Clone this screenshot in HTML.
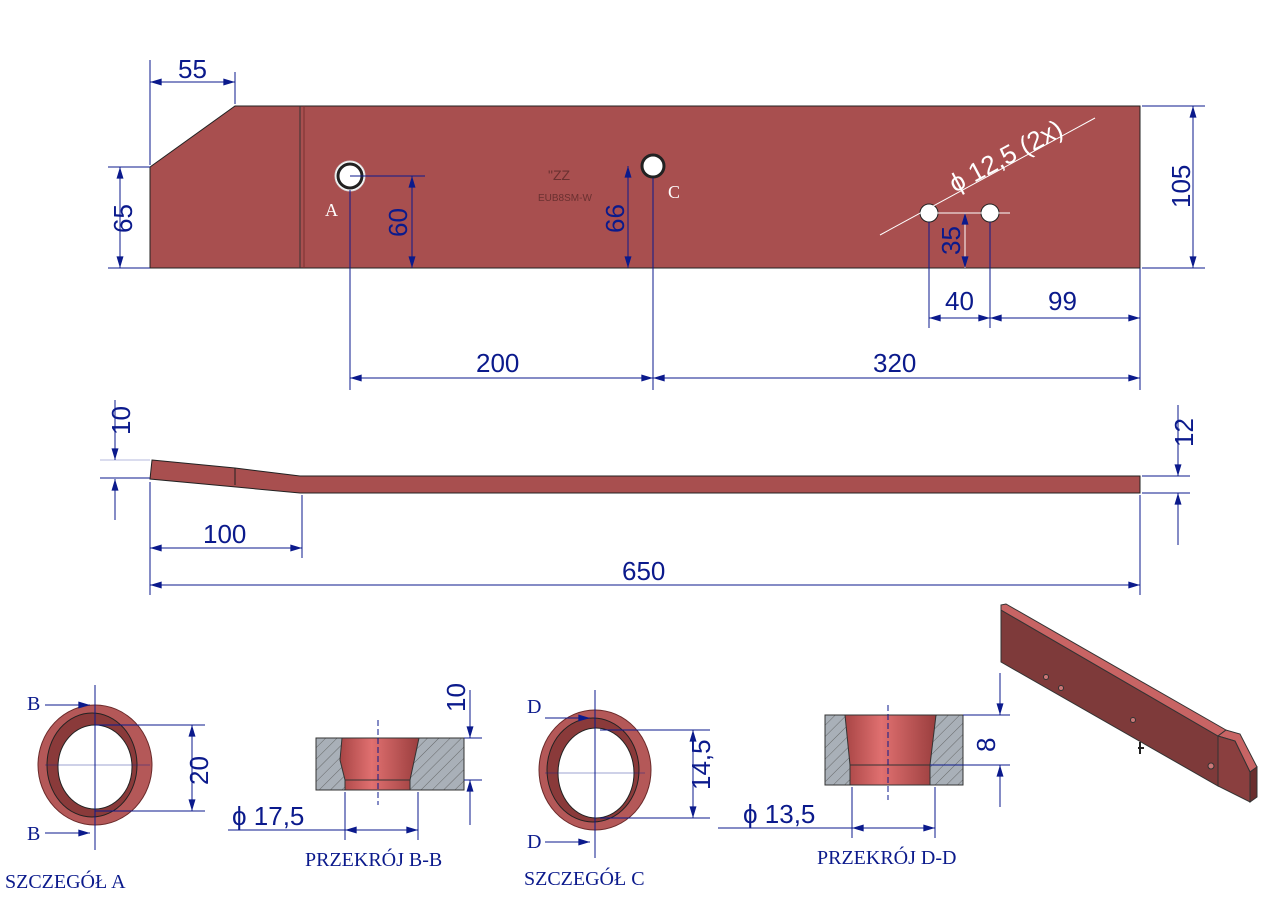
<!DOCTYPE html>
<html><head><meta charset="utf-8"><style>body{margin:0;background:#fff}svg{display:block}</style></head><body>
<svg width="1280" height="905" viewBox="0 0 1280 905" xmlns="http://www.w3.org/2000/svg" font-family="Liberation Sans, sans-serif">
<defs>
<marker id="a" viewBox="0 0 10 6" refX="10" refY="3" markerWidth="16" markerHeight="7" orient="auto-start-reverse" markerUnits="userSpaceOnUse"><path d="M0,0L10,3L0,6z" fill="#0b1a8c"/></marker>
<pattern id="h" width="8" height="8" patternUnits="userSpaceOnUse" patternTransform="rotate(45)"><rect width="8" height="8" fill="#a9b0b8"/><line x1="0" y1="0" x2="0" y2="8" stroke="#555" stroke-width="0.8"/></pattern>
<linearGradient id="g" x1="0" x2="1"><stop offset="0" stop-color="#a84545"/><stop offset="0.4" stop-color="#e07070"/><stop offset="1" stop-color="#9a3e3e"/></linearGradient>
</defs>
<g stroke="#0b1a8c" stroke-width="1" fill="none">
<polygon points="150,167 235,106 1140,106 1140,268 150,268" fill="#a84f4f" stroke="#222"/>
<line x1="300" y1="106" x2="300" y2="268" stroke="#333"/><line x1="304" y1="106" x2="304" y2="268" stroke="#7a3030"/>
<circle cx="350" cy="176" r="15" fill="#fff" stroke="#ddd"/><circle cx="350" cy="176" r="12" fill="#fff" stroke="#222" stroke-width="3"/>
<circle cx="653" cy="166" r="11" fill="#fff" stroke="#222" stroke-width="3"/>
<circle cx="929" cy="213" r="9" fill="#fff" stroke="#222"/><circle cx="990" cy="213" r="9" fill="#fff" stroke="#222"/>
<line x1="150" y1="60" x2="150" y2="165"/><line x1="235" y1="72" x2="235" y2="104"/>
<line x1="150" y1="82" x2="235" y2="82" marker-start="url(#a)" marker-end="url(#a)"/>
<line x1="108" y1="167" x2="150" y2="167"/><line x1="108" y1="268" x2="150" y2="268"/>
<line x1="120" y1="167" x2="120" y2="268" marker-start="url(#a)" marker-end="url(#a)"/>
<line x1="350" y1="176" x2="425" y2="176"/><line x1="412" y1="176" x2="412" y2="268" marker-start="url(#a)" marker-end="url(#a)"/>
<line x1="628" y1="166" x2="628" y2="268" marker-start="url(#a)" marker-end="url(#a)"/>
<line x1="1142" y1="106" x2="1205" y2="106"/><line x1="1142" y1="268" x2="1205" y2="268"/>
<line x1="1193" y1="106" x2="1193" y2="268" marker-start="url(#a)" marker-end="url(#a)"/>
<line x1="920" y1="213" x2="1010" y2="213" stroke="#fff"/>
<line x1="965" y1="213" x2="965" y2="268" marker-start="url(#a)" marker-end="url(#a)" stroke="#fff"/>
<line x1="880" y1="235" x2="1095" y2="118" stroke="#fff"/>
<line x1="350" y1="190" x2="350" y2="390"/><line x1="653" y1="178" x2="653" y2="390"/>
<line x1="929" y1="222" x2="929" y2="328"/><line x1="990" y1="222" x2="990" y2="328"/><line x1="1140" y1="268" x2="1140" y2="390"/>
<line x1="929" y1="318" x2="990" y2="318" marker-start="url(#a)" marker-end="url(#a)"/>
<line x1="990" y1="318" x2="1140" y2="318" marker-start="url(#a)" marker-end="url(#a)"/>
<line x1="350" y1="378" x2="653" y2="378" marker-start="url(#a)" marker-end="url(#a)"/>
<line x1="653" y1="378" x2="1140" y2="378" marker-start="url(#a)" marker-end="url(#a)"/>
<polygon points="152,460 235,468 300,476 1140,476 1140,493 300,493 150,479" fill="#a84f4f" stroke="#222"/>
<line x1="235" y1="468" x2="235" y2="485" stroke="#222"/>
<line x1="100" y1="478" x2="150" y2="478"/><line x1="100" y1="460" x2="150" y2="460" stroke-opacity=".3"/>
<line x1="115" y1="400" x2="115" y2="460" marker-end="url(#a)"/><line x1="115" y1="520" x2="115" y2="479" marker-end="url(#a)"/>
<line x1="1142" y1="476" x2="1190" y2="476"/><line x1="1142" y1="493" x2="1190" y2="493"/>
<line x1="1178" y1="405" x2="1178" y2="476" marker-end="url(#a)"/><line x1="1178" y1="545" x2="1178" y2="493" marker-end="url(#a)"/>
<line x1="150" y1="482" x2="150" y2="595"/><line x1="302" y1="495" x2="302" y2="558"/><line x1="1140" y1="495" x2="1140" y2="595"/>
<line x1="150" y1="548" x2="302" y2="548" marker-start="url(#a)" marker-end="url(#a)"/>
<line x1="150" y1="585" x2="1140" y2="585" marker-start="url(#a)" marker-end="url(#a)"/>
<ellipse cx="95" cy="765" rx="57" ry="60" fill="#b45858" stroke="#6a2a2a"/>
<ellipse cx="92" cy="765" rx="45" ry="52" fill="#8a3a3a" stroke="#222"/>
<ellipse cx="95" cy="767" rx="37" ry="42" fill="#fff" stroke="#222"/>
<line x1="95" y1="685" x2="95" y2="850"/><line x1="45" y1="765" x2="150" y2="765" stroke-opacity=".4"/>
<line x1="95" y1="725" x2="205" y2="725"/><line x1="95" y1="811" x2="205" y2="811"/>
<line x1="192" y1="725" x2="192" y2="811" marker-start="url(#a)" marker-end="url(#a)"/>
<line x1="45" y1="705" x2="90" y2="705" marker-end="url(#a)"/><line x1="45" y1="833" x2="90" y2="833" marker-end="url(#a)"/>
<rect x="316" y="738" width="148" height="52" fill="url(#h)" stroke="#333"/>
<polygon points="342,738 419,738 410,780 410,790 345,790 345,780 340,760" fill="url(#g)" stroke="#333"/>
<line x1="345" y1="780" x2="410" y2="780" stroke="#333"/>
<line x1="378" y1="720" x2="378" y2="805" stroke-dasharray="6,3"/>
<line x1="464" y1="738" x2="482" y2="738"/><line x1="464" y1="780" x2="482" y2="780"/>
<line x1="470" y1="690" x2="470" y2="738" marker-end="url(#a)"/><line x1="470" y1="825" x2="470" y2="780" marker-end="url(#a)"/>
<line x1="345" y1="792" x2="345" y2="840"/><line x1="418" y1="792" x2="418" y2="840"/>
<line x1="345" y1="830" x2="418" y2="830" marker-start="url(#a)" marker-end="url(#a)"/>
<line x1="228" y1="830" x2="345" y2="830"/>
<ellipse cx="595" cy="770" rx="56" ry="60" fill="#b45858" stroke="#6a2a2a"/>
<ellipse cx="593" cy="770" rx="46" ry="52" fill="#8a3a3a" stroke="#222"/>
<ellipse cx="596" cy="773" rx="38" ry="45" fill="#fff" stroke="#222"/>
<line x1="595" y1="690" x2="595" y2="858"/><line x1="545" y1="773" x2="645" y2="773" stroke-opacity=".4"/>
<line x1="600" y1="730" x2="710" y2="730"/><line x1="600" y1="818" x2="710" y2="818"/>
<line x1="693" y1="730" x2="693" y2="818" marker-start="url(#a)" marker-end="url(#a)"/>
<line x1="545" y1="718" x2="590" y2="718" marker-end="url(#a)"/><line x1="545" y1="842" x2="590" y2="842" marker-end="url(#a)"/>
<rect x="825" y="715" width="138" height="70" fill="url(#h)" stroke="#333"/>
<polygon points="845,715 936,715 930,765 930,785 850,785 850,765" fill="url(#g)" stroke="#333"/>
<line x1="850" y1="765" x2="930" y2="765" stroke="#333"/>
<line x1="888" y1="705" x2="888" y2="800" stroke-dasharray="6,3"/>
<line x1="963" y1="715" x2="1010" y2="715"/><line x1="930" y1="765" x2="1010" y2="765"/>
<line x1="1000" y1="673" x2="1000" y2="715" marker-end="url(#a)"/><line x1="1000" y1="807" x2="1000" y2="765" marker-end="url(#a)"/>
<line x1="852" y1="787" x2="852" y2="838"/><line x1="935" y1="787" x2="935" y2="838"/>
<line x1="852" y1="828" x2="935" y2="828" marker-start="url(#a)" marker-end="url(#a)"/>
<line x1="718" y1="828" x2="852" y2="828"/>
<!-- iso -->
<polygon points="1001,610 1218,736 1218,786 1001,662" fill="#7e3a3a" stroke="#333"/>
<polygon points="1001,605 1006,604 1226,730 1218,736 1001,610" fill="#c86464" stroke="#333"/>
<polygon points="1218,736 1226,730 1240,734 1257,767 1250,772 1235,741" fill="#c86464" stroke="#333"/>
<polygon points="1218,736 1235,741 1250,772 1250,802 1218,786" fill="#8a3f3f" stroke="#333"/>
<polygon points="1250,772 1257,767 1257,797 1250,802" fill="#6a2e2e" stroke="#333"/>
<circle cx="1046" cy="677" r="2.5" fill="#c77" stroke="#333"/><circle cx="1061" cy="688" r="2.5" fill="#c77" stroke="#333"/>
<circle cx="1133" cy="720" r="2.5" fill="#c77" stroke="#333"/><circle cx="1211" cy="766" r="3" fill="#c77" stroke="#333"/>
<path d="M1140,742 v12 M1138,748 h6" stroke="#222" stroke-width="2"/>
</g>
<g fill="#0b1a8c" font-size="26">
<text x="178" y="78">55</text>
<text transform="translate(132,233) rotate(-90)">65</text>
<text transform="translate(407,237) rotate(-90)">60</text>
<text transform="translate(624,233) rotate(-90)">66</text>
<text transform="translate(1190,208) rotate(-90)">105</text>
<text transform="translate(960,255) rotate(-90)">35</text>
<text x="945" y="310">40</text><text x="1048" y="310">99</text>
<text x="476" y="372">200</text><text x="873" y="372">320</text>
<text transform="translate(130,435) rotate(-90)">10</text>
<text transform="translate(1193,447) rotate(-90)">12</text>
<text x="203" y="543">100</text><text x="622" y="580">650</text>
<text transform="translate(208,785) rotate(-90)">20</text>
<text transform="translate(465,712) rotate(-90)">10</text>
<text x="232" y="825">ϕ 17,5</text>
<text transform="translate(710,790) rotate(-90)">14,5</text>
<text transform="translate(995,752) rotate(-90)">8</text>
<text x="743" y="823">ϕ 13,5</text>
<text transform="translate(955,193) rotate(-28)" fill="#fff">ϕ 12,5 (2x)</text>
</g>
<g fill="#0b1a8c" font-family="Liberation Serif, serif" font-size="20">
<text x="27" y="710">B</text><text x="27" y="840">B</text>
<text x="527" y="713">D</text><text x="527" y="848">D</text>
<text x="5" y="888">SZCZEGÓŁ A</text><text x="305" y="866">PRZEKRÓJ B-B</text>
<text x="524" y="885">SZCZEGÓŁ C</text><text x="817" y="864">PRZEKRÓJ D-D</text>
</g>
<g fill="#fff" font-family="Liberation Serif, serif" font-size="18"><text x="325" y="216">A</text><text x="668" y="198">C</text></g>
<g fill="#6a3030" font-size="10"><text x="548" y="180" font-size="14">"ZZ</text><text x="538" y="201">EUB8SM-W</text></g>
</svg>
</body></html>
